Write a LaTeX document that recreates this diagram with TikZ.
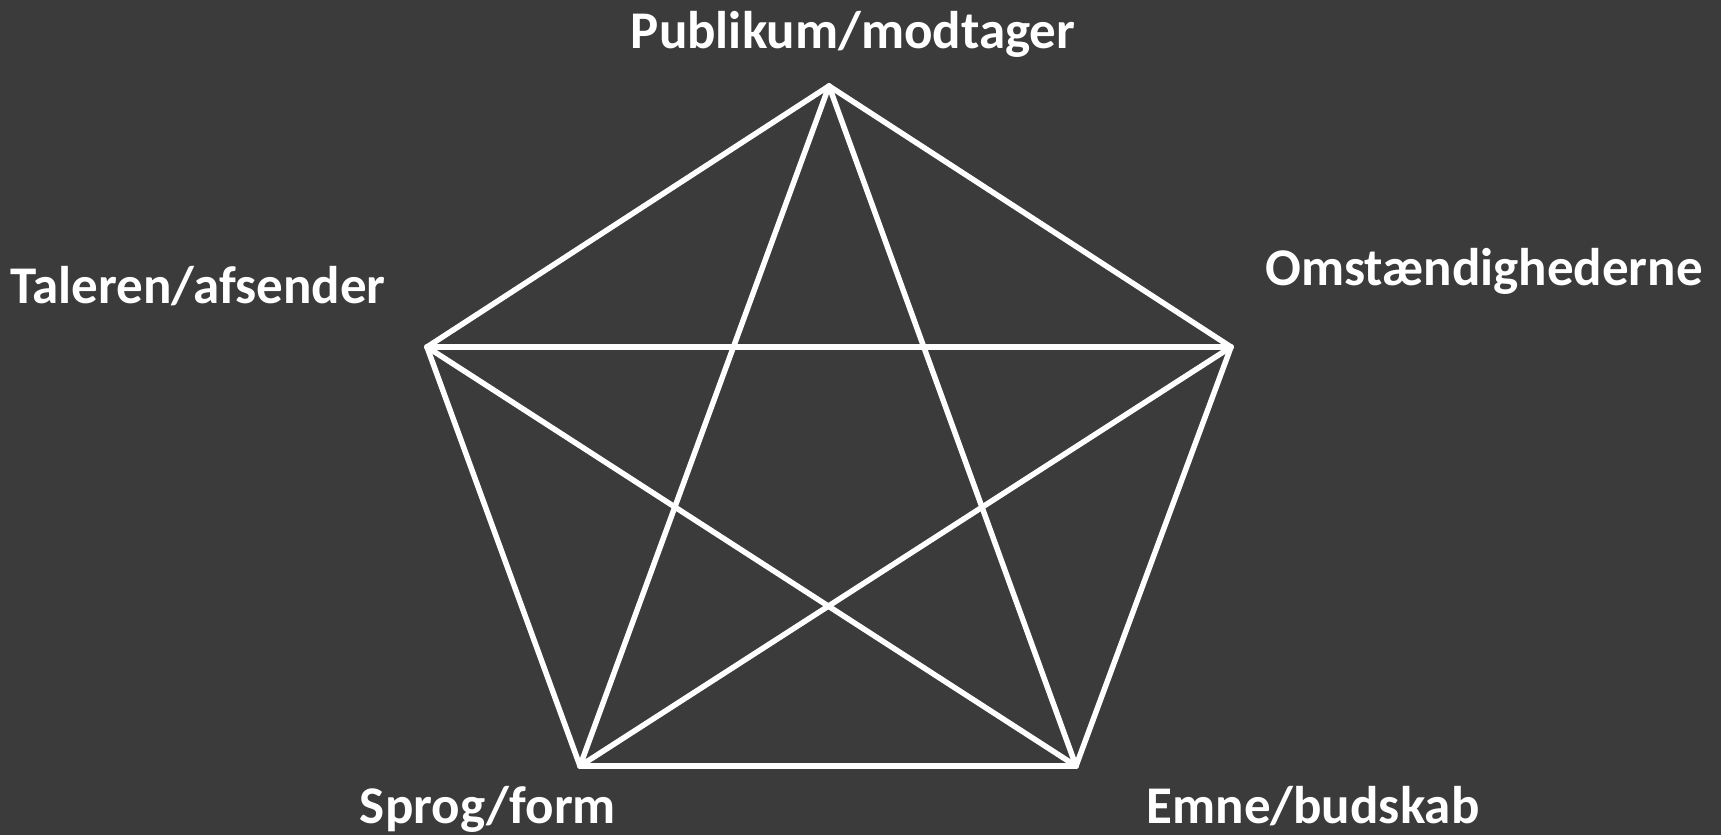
\documentclass[tikz,border=0pt]{standalone}
\usepackage{fontspec}
\setmainfont{Carlito}
\usetikzlibrary{positioning}
\definecolor{slidebg}{HTML}{3B3B3B}

\begin{document}
\begin{tikzpicture}[x=1pt, y=-1pt,
  edge/.style={draw=white, line width=5.5pt, line cap=round},
  lab/.style={text=white, anchor=base, inner sep=0pt, font=\fontsize{53}{62}\selectfont\bfseries}]
\fill[slidebg] (0,0) rectangle (1721,835);
\useasboundingbox (0,0) rectangle (1721,835);
\coordinate (pub) at (829,86);
\coordinate (tal) at (427,347);
\coordinate (oms) at (1231,347);
\coordinate (spr) at (580,766);
\coordinate (emn) at (1076,766);
\node[lab] (publab) at (853,48) {Publikum/modtager};
\node[lab] (tallab) at (198,303) {Taleren/afsender};
\node[lab] (omslab) at (1484,285) {Omstændighederne};
\node[lab] (sprlab) at (488,823) {Sprog/form};
\node[lab] (emnlab) at (1313,823) {Emne/budskab};
\draw[edge] (pub) -- (tal); \draw[edge] (pub) -- (oms); \draw[edge] (tal) -- (spr);
\draw[edge] (oms) -- (emn); \draw[edge] (spr) -- (emn);
\draw[edge] (pub) -- (spr); \draw[edge] (pub) -- (emn);
\draw[edge] (tal) -- (oms); \draw[edge] (tal) -- (emn); \draw[edge] (oms) -- (spr);
\end{tikzpicture}
\end{document}
